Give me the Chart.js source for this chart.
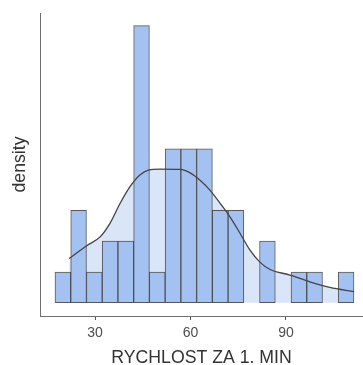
<!DOCTYPE html>
<html>
<head>
<meta charset="utf-8">
<script src="https://cdn.jsdelivr.net/npm/chart.js@4"></script>
<style>
  body { margin: 0; background: #fff; }
</style>
</head>
<body>
<canvas id="histChart" width="363" height="365"></canvas>
<script>
// bin midpoints of the histogram and the counts in each bin
var binMids = [19.90, 24.85, 29.79, 34.73, 39.68, 44.62, 49.56, 54.51, 59.45, 64.40,
  69.34, 74.28, 79.23, 84.17, 89.12, 94.06, 99.00, 103.95, 108.89];
var binCounts = [1, 3, 1, 2, 2, 9, 1, 5, 5, 5, 3, 3, 0, 2, 0, 1, 1, 0, 1];

// density curve (same scale as the bars)
var densX = [21.9, 27.4, 31.6, 34.7, 37.9, 41.0, 44.1, 46.8, 50.4, 56.7, 59.9, 63.0,
  66.1, 69.3, 72.4, 75.6, 78.7, 81.8, 85.0, 91.3, 97.5, 103.8, 111.4];
var densY = [1.44, 1.85, 2.14, 2.58, 3.23, 3.77, 4.15, 4.31, 4.34, 4.33, 4.22, 3.98,
  3.66, 3.23, 2.79, 2.25, 1.71, 1.32, 1.08, 0.90, 0.68, 0.50, 0.36];

var xTicks = [30, 60, 90];

var barPoints = binMids.map((m, i) => ({x: m, y: binCounts[i]}));
var curvePoints = densX.map((v, i) => ({x: v, y: densY[i]}));

var data = {
  datasets: [{
    type: 'line',
    label: 'density',
    data: curvePoints,
    order: 0,
    borderColor: '#444444',
    borderWidth: 1.3,
    backgroundColor: 'rgb(218,229,247)',
    fill: 'origin',
    pointRadius: 0,
    cubicInterpolationMode: 'monotone'
  }, {
    type: 'bar',
    label: 'count',
    data: barPoints,
    order: 1,
    backgroundColor: 'rgb(164,194,241)',
    borderColor: 'rgba(60,60,60,0.85)',
    borderWidth: 1,
    borderSkipped: false,
    barPercentage: 1,
    categoryPercentage: 1
  }]
};

const config = {
  type: 'bar',
  data: data,
  options: {
    responsive: false,
    animation: false,
    layout: {
      padding: {top: 13, right: 0, bottom: 0, left: 0}
    },
    plugins: {
      legend: {display: false},
      tooltip: {enabled: false},
      filler: {drawTime: 'beforeDatasetsDraw'}
    },
    scales: {
      x: {
        type: 'linear',
        offset: false,
        min: 12.72,
        max: 114.2,
        afterBuildTicks: function(scale) {
          scale.ticks = xTicks.map(v => ({value: v}));
        },
        afterFit: function(scale) {
          scale.height = 49;
        },
        grid: {
          offset: false,
          drawOnChartArea: false,
          drawTicks: true,
          tickLength: 4,
          tickWidth: 1,
          tickColor: '#555555'
        },
        border: {
          display: true,
          color: '#6e6e6e',
          width: 1
        },
        ticks: {
          padding: 5,
          color: '#4d4d4d',
          font: {family: 'Liberation Sans', size: 14}
        },
        title: {
          display: true,
          text: 'RYCHLOST ZA 1. MIN',
          color: '#333333',
          padding: {top: 0, bottom: 0},
          font: {family: 'Liberation Sans', size: 17.7, lineHeight: 0.8}
        }
      },
      y: {
        min: -0.43,
        max: 9.41,
        afterFit: function(scale) {
          scale.width = 40;
        },
        grid: {display: false},
        border: {
          display: true,
          color: '#6e6e6e',
          width: 1
        },
        ticks: {display: false},
        title: {
          display: true,
          text: 'density',
          color: '#333333',
          padding: {top: 9.6, bottom: 0},
          font: {family: 'Liberation Sans', size: 17.7}
        }
      }
    }
  }
};

var ctx = document.getElementById("histChart").getContext('2d');
var histChart = new Chart(ctx, config);
</script>
</body>
</html>
